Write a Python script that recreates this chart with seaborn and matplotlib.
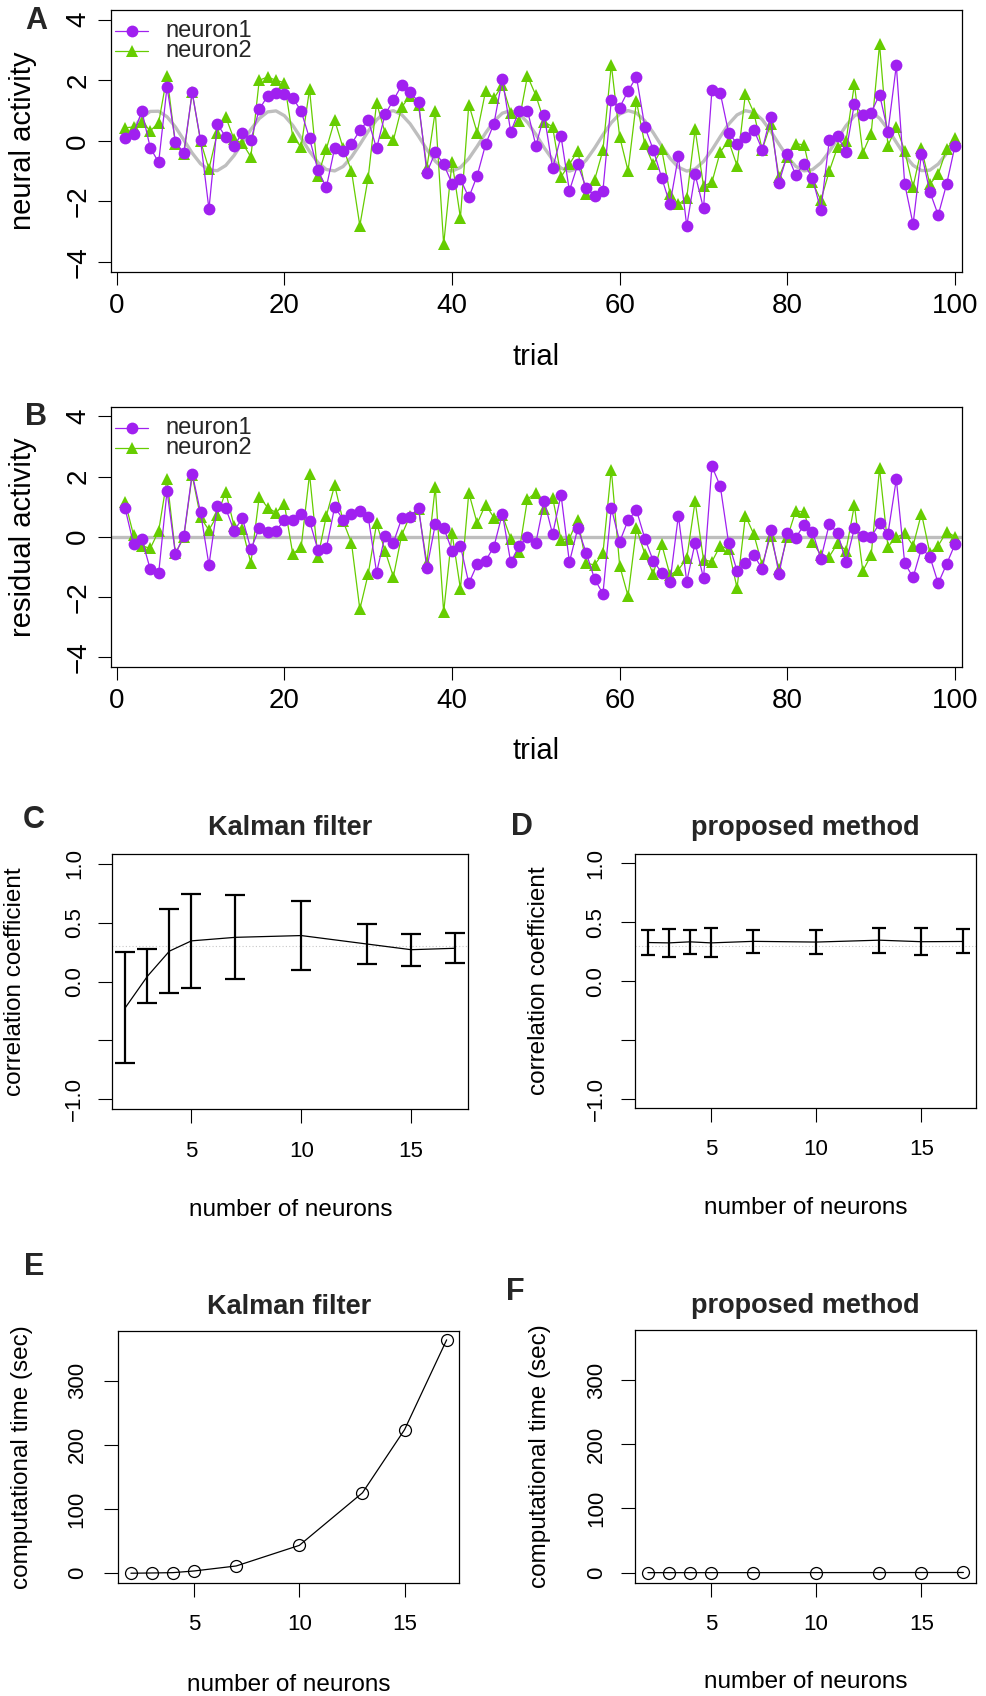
import numpy as np
import matplotlib
matplotlib.use("Agg")
import matplotlib.pyplot as plt
import seaborn as sns

# ---- data ----
trial = np.arange(1, 101)

signal = [0.000, 0.430, 0.776, 0.972, 0.978, 0.795, 0.458, 0.030, -0.402, -0.757,
          -0.965, -0.984, -0.813, -0.484, -0.061, 0.374, 0.737, 0.956, 0.989, 0.831,
          0.510, 0.091, -0.346, -0.714, -0.946, -0.993, -0.848, -0.537, -0.122, 0.317,
          0.694, 0.936, 0.996, 0.863, 0.562, 0.151, -0.288, -0.670, -0.925, -0.998,
          -0.879, -0.586, -0.181, 0.258, 0.649, 0.913, 1.000, 0.892, 0.611, 0.211,
          -0.229, -0.623, -0.901, -1.000, -0.906, -0.636, -0.242, 0.199, 0.601, 0.886,
          0.999, 0.918, 0.658, 0.271, -0.169, -0.575, -0.872, -0.998, -0.930, -0.681,
          -0.300, 0.139, 0.552, 0.857, 0.995, 0.940, 0.703, 0.328, -0.109, -0.526,
          -0.841, -0.992, -0.951, -0.725, -0.357, 0.079, 0.500, 0.824, 0.987, 0.959,
          0.745, 0.385, -0.048, -0.475, -0.807, -0.982, -0.968, -0.765, -0.414, 0.018]

neuron1 = [0.10, 0.24, 0.98, -0.23, -0.71, 1.78, -0.03, -0.40, 1.60, 0.02,
           -2.25, 0.55, 0.13, -0.16, 0.27, 0.02, 1.04, 1.48, 1.58, 1.56,
           1.42, 0.98, 0.08, -0.97, -1.54, -0.23, -0.34, -0.11, 0.35, 0.68,
           -0.25, 0.87, 1.34, 1.84, 1.60, 1.29, -1.05, -0.38, -0.77, -1.41,
           -1.26, -1.87, -1.15, -0.12, 0.57, 2.05, 0.30, 0.99, 1.00, -0.16,
           0.85, -0.91, 0.15, -1.65, -0.78, -1.55, -1.81, -1.65, 1.34, 1.10,
           1.65, 2.11, 0.46, -0.29, -1.21, -2.09, -0.51, -2.81, -1.11, -2.23,
           1.67, 1.58, 0.26, -0.09, 0.13, 0.37, -0.29, 0.79, -1.38, -0.45,
           -1.13, -0.75, -1.24, -2.29, 0.02, 0.15, -0.36, 1.23, 0.85, 0.93,
           1.53, 0.30, 2.49, -1.42, -2.75, -0.42, -1.68, -2.45, -1.43, -0.16]

neuron2 = [0.43, 0.46, 0.63, 0.33, 0.60, 2.14, -0.12, -0.45, 1.60, -0.01,
           -0.93, 0.26, 0.79, 0.05, -0.08, -0.53, 2.00, 2.11, 2.00, 1.92,
           0.13, -0.20, 1.70, -1.15, -0.27, 0.68, -0.23, -0.99, -2.80, -1.21,
           1.26, 0.27, 0.02, 1.12, 1.48, 1.18, -0.89, 0.98, -3.42, -0.69,
           -2.54, 1.20, 0.27, 1.64, 1.40, 1.84, 0.93, 0.67, 2.14, 1.50,
           0.63, 0.46, -1.19, -0.77, -0.33, -1.76, -1.30, -0.31, 2.52, 0.13,
           -0.99, 1.31, -0.12, -0.78, -0.27, -1.74, -2.10, -1.88, 0.38, -1.49,
           -1.37, -0.36, -0.01, -0.82, 1.56, 0.93, -0.29, 0.55, -1.19, -0.53,
           -0.09, -0.14, -1.37, -1.96, -1.00, -0.20, -0.01, 1.87, -0.40, 0.24,
           3.19, -0.16, 0.46, -0.33, -1.52, -0.25, -1.43, -1.10, -0.27, 0.10]

resid1 = [0.94, -0.24, -0.09, -1.08, -1.22, 1.52, -0.57, 0.02, 2.10, 0.81,
          -0.94, 1.02, 0.94, 0.20, 0.61, -0.42, 0.28, 0.14, 0.19, 0.57,
          0.55, 0.77, 0.52, -0.44, -0.39, 0.99, 0.57, 0.77, 0.86, 0.66,
          -1.19, 0.02, -0.20, 0.61, 0.66, 0.97, -1.05, 0.41, 0.30, -0.46,
          -0.30, -1.55, -0.92, -0.80, -0.33, 0.77, -0.85, -0.30, -0.02, -0.20,
          1.19, 0.08, 1.40, -0.85, 0.28, -0.53, -1.40, -1.90, 0.96, -0.17,
          0.55, 0.88, -0.06, -0.80, -1.19, -1.51, 0.70, -1.49, -0.20, -1.38,
          2.34, 1.68, -0.22, -1.13, -0.86, -0.61, -1.07, 0.22, -1.24, 0.11,
          -0.03, 0.39, 0.17, -0.74, 0.42, 0.13, -0.85, 0.28, 0.02, 0.00,
          0.44, 0.09, 1.91, -0.88, -1.35, -0.39, -0.66, -1.55, -0.91, -0.25]

resid2 = [1.16, 0.06, -0.30, -0.39, 0.19, 1.91, -0.55, -0.02, 2.04, 0.64,
          0.22, 0.72, 1.49, 0.35, 0.24, -0.88, 1.33, 0.97, 0.80, 1.08,
          -0.57, -0.35, 2.08, -0.69, 0.69, 1.71, 0.52, -0.20, -2.41, -1.24,
          0.44, -0.46, -1.33, 0.06, 0.70, 0.91, -0.88, 1.66, -2.51, 0.11,
          -1.73, 1.46, 0.44, 1.07, 0.63, 0.72, -0.06, -0.50, 1.25, 1.46,
          0.92, 1.30, -0.11, -0.06, 0.57, -0.88, -0.94, -0.55, 2.23, -0.97,
          -1.97, 0.28, -0.57, -1.24, -0.24, -1.27, -1.10, -0.72, 1.18, -0.77,
          -0.83, -0.30, -0.42, -1.71, 0.70, 0.08, -0.94, 0.03, -1.08, -0.02,
          0.85, 0.83, -0.17, -0.61, -0.66, -0.22, -0.46, 1.05, -1.14, -0.61,
          2.27, -0.33, -0.02, 0.11, -0.30, 0.77, -0.53, -0.30, 0.17, 0.00]

n_neurons = [2, 3, 4, 5, 7, 10, 13, 15, 17]
kalman_corr = [-0.22, 0.045, 0.258, 0.345, 0.375, 0.39, 0.318, 0.27, 0.282]
kalman_err = [0.47, 0.23, 0.354, 0.396, 0.358, 0.29, 0.171, 0.137, 0.126]
proposed_corr = [0.328, 0.325, 0.334, 0.325, 0.338, 0.332, 0.348, 0.335, 0.337]
proposed_err = [0.107, 0.116, 0.102, 0.124, 0.10, 0.10, 0.105, 0.115, 0.102]
true_corr = 0.3
kalman_time = [0.1, 0.5, 1.0, 3.6, 11.4, 43.5, 125.4, 223.8, 363.7]
proposed_time = [0.05, 0.06, 0.07, 0.08, 0.10, 0.15, 0.20, 0.25, 0.30]

PURPLE = "#A020F0"
GREEN = "#66CD00"

sns.set_theme(style="ticks")
plt.rcParams["font.family"] = ["Liberation Sans", "DejaVu Sans"]
plt.rcParams["axes.edgecolor"] = "black"
plt.rcParams["axes.linewidth"] = 0.9

W, H = 987, 1696
fig = plt.figure(figsize=(W / 100, H / 100), dpi=100)
fig.patch.set_facecolor("white")


def rect(left, right, top, bottom):
    return [left / W, 1 - bottom / H, (right - left) / W, (bottom - top) / H]


def style_axis(ax, tick_fs, ticklen, xpad, ypad):
    for s in ax.spines.values():
        s.set_visible(True)
        s.set_color("black")
        s.set_linewidth(0.9)
    ax.tick_params(axis="both", direction="out", length=ticklen, width=0.8,
                   color="black", labelsize=tick_fs, labelcolor="black")
    ax.tick_params(axis="x", pad=xpad)
    ax.tick_params(axis="y", pad=ypad)
    for lab in ax.get_yticklabels():
        lab.set_rotation(90)
        lab.set_va("center")
        lab.set_ha("right")
    ax.grid(False)
    ax.set_facecolor("white")


def set_labels(ax, xl, yl, fs, xpos, ypos):
    ax.set_xlabel(xl, fontsize=fs, color="black")
    ax.set_ylabel(yl, fontsize=fs, color="black")
    ax.xaxis.label.set_va("center")
    ax.yaxis.label.set_va("center")
    ax.xaxis.set_label_coords(0.5, xpos)
    ax.yaxis.set_label_coords(ypos, 0.5)


def legend_manual(ax, y1, y2):
    for y, c, m, ms, name in [(y1, PURPLE, "o", 8.5, "neuron1"), (y2, GREEN, "^", 9, "neuron2")]:
        ax.plot([0.005, 0.044], [y, y], color=c, lw=0.9, transform=ax.transAxes, clip_on=False)
        ax.plot([0.0245], [y], marker=m, color=c, markersize=ms, mew=0,
                transform=ax.transAxes, clip_on=False)
        ax.text(0.064, y, name, transform=ax.transAxes, fontsize=17, va="center", ha="left")


def trial_panel(ax, y1, y2, baseline, ylabel):
    if baseline is None:
        ax.axhline(0, color="#BEBEBE", lw=2.4, zorder=1)
    else:
        sns.lineplot(x=trial, y=baseline, ax=ax, color="#BEBEBE", lw=2.4, zorder=1)
    sns.lineplot(x=trial, y=y1, ax=ax, color=PURPLE, lw=0.9, marker="o",
                 markersize=8.5, markeredgewidth=0, zorder=3)
    sns.lineplot(x=trial, y=y2, ax=ax, color=GREEN, lw=0.9, marker="^",
                 markersize=9, markeredgewidth=0, zorder=2)
    ax.set_xlim(-0.72, 100.8)
    ax.set_ylim(-4.32, 4.32)
    ax.set_xticks([0, 20, 40, 60, 80, 100])
    ax.set_yticks([-4, -2, 0, 2, 4])
    style_axis(ax, 20, 9.2, 6, 4.8)
    set_labels(ax, "trial", ylabel, 21, -0.326, -0.1035)


# ---- A ----
axA = fig.add_axes(rect(110.7, 961.7, 10, 271.7))
trial_panel(axA, neuron1, neuron2, signal, "neural activity")
legend_manual(axA, 0.918, 0.842)

# ---- B ----
axB = fig.add_axes(rect(110.7, 961.7, 406.7, 666.7))
trial_panel(axB, resid1, resid2, None, "residual activity")
legend_manual(axB, 0.917, 0.840)


def corr_panel(ax, mean, err, capsize, title, ylab_x, xlab_y, xpad, ypad):
    ax.axhline(true_corr, color="#C8C8C8", lw=0.8, ls=(0, (1, 2)), zorder=1)
    sns.lineplot(x=n_neurons, y=mean, ax=ax, color="black", lw=0.9, zorder=2)
    ax.errorbar(n_neurons, mean, yerr=err, fmt="none", ecolor="black",
                elinewidth=1.6, capsize=capsize, capthick=1.6, zorder=3)
    ax.set_xlim(1.4, 17.6)
    ax.set_ylim(-1.08, 1.08)
    ax.set_xticks([5, 10, 15])
    ax.set_yticks([-1.0, -0.5, 0.0, 0.5, 1.0])
    ax.set_yticklabels(["\u22121.0", "", "0.0", "0.5", "1.0"])
    style_axis(ax, 16, 10, xpad, ypad)
    set_labels(ax, "number of neurons", "correlation coefficient", 17.5, xlab_y, ylab_x)
    ax.text(0.5, 1.102, title, transform=ax.transAxes, fontsize=19.5,
            fontweight="bold", ha="center", va="center")


def time_panel(ax, values, title, ylab_x, xlab_y, xpad, ypad):
    sns.lineplot(x=n_neurons, y=values, ax=ax, color="black", lw=0.9, marker="o",
                 markersize=8.6, markerfacecolor="none", markeredgecolor="black",
                 markeredgewidth=0.9)
    ax.set_xlim(1.4, 17.6)
    ax.set_ylim(-15.6, 377.9)
    ax.set_xticks([5, 10, 15])
    ax.set_yticks([0, 100, 200, 300])
    style_axis(ax, 16, 10, xpad, ypad)
    set_labels(ax, "number of neurons", "computational time (sec)", 17.5, xlab_y, ylab_x)
    ax.text(0.5, 1.094, title, transform=ax.transAxes, fontsize=19.5,
            fontweight="bold", ha="center", va="center")


# ---- C / D ----
axC = fig.add_axes(rect(112.3, 468.3, 854.3, 1108.7))
corr_panel(axC, kalman_corr, kalman_err, 7.2, "Kalman filter", -0.273, -0.398, 13, 9.8)
axD = fig.add_axes(rect(635.3, 976, 854, 1108.3))
corr_panel(axD, proposed_corr, proposed_err, 4.8, "proposed method", -0.282, -0.392, 12.4, 10.7)

# ---- E / F ----
axE = fig.add_axes(rect(118.3, 459.3, 1330.7, 1583.3))
time_panel(axE, kalman_time, "Kalman filter", -0.2815, -0.403, 12.4, 12)
axF = fig.add_axes(rect(635.3, 976, 1330, 1582.7))
time_panel(axF, proposed_time, "proposed method", -0.279, -0.392, 12.3, 10.5)

# panel letters
for letter, x, y in [("A", 36, 21), ("B", 36, 417), ("C", 34, 820),
                     ("D", 522, 827), ("E", 34, 1267), ("F", 515, 1292)]:
    fig.text(x / W, 1 - y / H, letter, fontsize=22, fontweight="bold",
             ha="center", va="center")

fig.savefig("out.png", dpi=100, facecolor="white")
